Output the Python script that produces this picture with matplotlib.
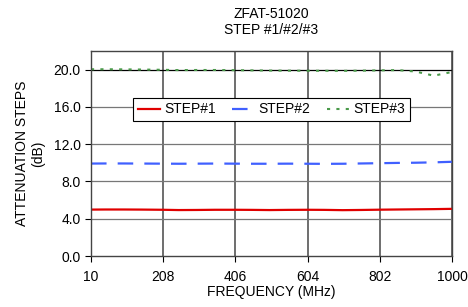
import numpy as np
import matplotlib.pyplot as plt

freq = [10, 50, 100, 150, 208, 250, 300, 350, 406, 450, 500, 550, 604, 650, 700, 750, 802, 850, 900, 950, 1000]
step1 = [4.98, 4.99, 4.99, 4.98, 4.96, 4.93, 4.94, 4.96, 4.96, 4.95, 4.93, 4.95, 4.96, 4.95, 4.92, 4.94, 4.97, 4.99, 5.01, 5.03, 5.06]
step2 = [9.92, 9.93, 9.93, 9.92, 9.91, 9.90, 9.91, 9.92, 9.91, 9.90, 9.90, 9.91, 9.90, 9.89, 9.90, 9.93, 9.96, 9.99, 10.01, 10.05, 10.11]
step3 = [20.04, 20.04, 20.03, 20.01, 19.98, 19.95, 19.96, 19.96, 19.94, 19.92, 19.90, 19.89, 19.88, 19.88, 19.87, 19.89, 19.92, 19.95, 19.80, 19.35, 19.75]
xticks = [10, 208, 406, 604, 802, 1000]
yticks = [0, 4, 8, 12, 16, 20]

plt.rcParams['font.family'] = ['Liberation Sans', 'DejaVu Sans']
fig = plt.figure(figsize=(4.68, 3.07), dpi=100)
ax = fig.add_axes([91/468, 1 - 256/307, (452-91)/468, (256-51)/307])

ax.plot(freq, step1, color='#e00000', lw=1.6, label='STEP#1')
ax.plot(freq, step2, color='#4060ff', lw=1.6, dashes=(7, 5), label='STEP#2')
ax.plot(freq, step3, color='#4a9a4a', lw=1.5, dashes=(1.5, 3), label='STEP#3')

ax.set_xlim(10, 1000)
ax.set_ylim(0, 22)
ax.set_xticks(xticks)
ax.set_yticks(yticks)
ax.set_yticklabels(['%.1f' % v for v in yticks])
for v in xticks:
    ax.axvline(v, color='#555555', lw=1.2, zorder=0)
for v in yticks[1:]:
    ax.axhline(v, color='black' if v == 20 else '#777777', lw=0.9, zorder=0)
for s in ax.spines.values():
    s.set_color('#444444')
    s.set_linewidth(1.0)
ax.tick_params(axis='x', direction='out', length=4, labelsize=10, pad=6)
ax.tick_params(axis='y', direction='out', length=4, labelsize=10)

ax.set_xlabel('FREQUENCY (MHz)', fontsize=10, labelpad=1)
ax.set_ylabel('ATTENUATION STEPS\n(dB)', fontsize=10, labelpad=6)
ax.set_title('ZFAT-51020\nSTEP #1/#2/#3', fontsize=10, pad=12)

leg = ax.legend(loc='center', bbox_to_anchor=(0.5, 0.715), ncol=3, fontsize=10,
                frameon=True, fancybox=False, edgecolor='black', framealpha=1,
                handlelength=1.6, handletextpad=0.3, columnspacing=1.2,
                borderpad=0.3, borderaxespad=0)
leg.get_frame().set_linewidth(0.8)

fig.savefig('out.png', dpi=100)
